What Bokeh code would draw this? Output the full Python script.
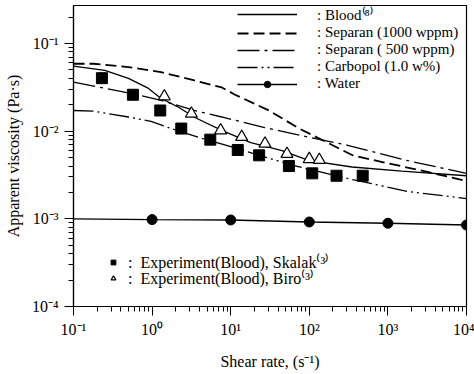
from bokeh.plotting import figure
from bokeh.models import Legend, LegendItem, CustomJSTickFormatter
from bokeh.embed import file_html
from bokeh.resources import INLINE

# Apparent viscosity (Pa·s) against shear rate (1/s)
blood_rate = [0.1, 0.25, 0.5, 0.9, 1.3, 2.2, 3.5, 7.7, 18, 45, 100, 350, 1500, 10000]
blood_visc = [0.055, 0.0492, 0.0399, 0.0307, 0.0236, 0.0186, 0.0143, 0.0102, 0.0074,
              0.0060, 0.0046, 0.0039, 0.0035, 0.0031]

sep1000_rate = [0.1, 0.18, 0.5, 1.3, 3.45, 7.7, 11.2, 30.7, 74.5, 356, 1000, 3300, 10000]
sep1000_visc = [0.0587, 0.0587, 0.0537, 0.0471, 0.0379, 0.0315, 0.0262, 0.0172, 0.0107,
                0.0053, 0.0043, 0.0034, 0.0027]

sep500_rate = [0.1, 0.57, 1.3, 3.45, 7.7, 27, 100, 307, 1800, 10000]
sep500_visc = [0.0362, 0.0267, 0.0224, 0.0172, 0.0145, 0.0110, 0.0085, 0.0069, 0.0046, 0.0033]

carbopol_rate = [0.1, 0.18, 0.5, 0.97, 1.75, 4.25, 10.3, 60, 356, 1800, 10000]
carbopol_visc = [0.0172, 0.0169, 0.0145, 0.0129, 0.0107, 0.0083, 0.0066, 0.0041, 0.0028,
                 0.00205, 0.0017]

water_rate = [0.1, 1, 10, 100, 1000, 10000]
water_visc = [1.0e-3, 9.8e-4, 9.7e-4, 9.2e-4, 8.9e-4, 8.5e-4]

# Measured blood viscosity
skalak_rate = [0.23, 0.57, 1.27, 2.35, 5.5, 12.3, 23, 55, 109, 222, 478]
skalak_visc = [0.0402, 0.026, 0.0172, 0.0107, 0.0080, 0.0061, 0.0053, 0.0040, 0.0033,
               0.0031, 0.0031]

biro_rate = [1.43, 3.16, 7.45, 13.8, 27.3, 52, 100, 134]
biro_visc = [0.0249, 0.0158, 0.0102, 0.0086, 0.0072, 0.0055, 0.0048, 0.0047]

FONT = "Liberation Serif"

p = figure(width=474, height=374, x_axis_type="log", y_axis_type="log",
           x_range=(0.1, 1e4), y_range=(1e-4, 0.271),
           output_backend="svg", toolbar_location=None,
           min_border_left=73, min_border_right=8, min_border_top=5, min_border_bottom=68,
           background_fill_color="white", border_fill_color="white")
p.xgrid.visible = False
p.ygrid.visible = False
p.outline_line_color = "black"
p.outline_line_width = 1.2

sup = CustomJSTickFormatter(code="""
const s = {'-':'\u207b','0':'\u2070','1':'\u00b9','2':'\u00b2','3':'\u00b3','4':'\u2074',
           '5':'\u2075','6':'\u2076','7':'\u2077','8':'\u2078','9':'\u2079'};
const e = Math.round(Math.log10(tick));
return '10' + String(e).split('').map(c => s[c]).join('');
""")

for ax in (p.xaxis[0], p.yaxis[0]):
    ax.formatter = sup
    ax.major_tick_in = 0
    ax.major_tick_out = 9
    ax.minor_tick_in = 0
    ax.minor_tick_out = 5
    ax.axis_line_color = "black"
    ax.axis_line_width = 1.2
    ax.major_tick_line_color = "black"
    ax.minor_tick_line_color = "black"
    ax.major_label_text_font = FONT
    ax.major_label_text_font_size = "16px"
    ax.major_label_text_color = "black"
    ax.axis_label_text_font = FONT
    ax.axis_label_text_font_size = "16px"
    ax.axis_label_text_font_style = "normal"
    ax.axis_label_text_color = "black"

p.xaxis.axis_label = "Shear rate, (s\u207b\u00b9)"
p.xaxis.major_label_standoff = 5
p.xaxis.axis_label_standoff = 12
p.yaxis.axis_label = "Apparent viscosity (Pa\u00b7s)"
p.yaxis.major_label_standoff = 6
p.yaxis.axis_label_standoff = 7

r_blood = p.line(blood_rate, blood_visc, line_color="black", line_width=1.3)
r_s1000 = p.line(sep1000_rate, sep1000_visc, line_color="black", line_width=1.8,
                 line_dash="11 5")
r_s500 = p.line(sep500_rate, sep500_visc, line_color="black", line_width=1.3,
                line_dash="22 5 3 5")
r_carb = p.line(carbopol_rate, carbopol_visc, line_color="black", line_width=1.3,
                line_dash="20 4 2 4 2 4")
r_water = p.line(water_rate, water_visc, line_color="black", line_width=1.3)
r_water_pts = p.scatter(water_rate[1:], water_visc[1:], marker="circle", size=10,
                        fill_color="black", line_color="black")

r_skalak = p.scatter(skalak_rate, skalak_visc, marker="square", size=11,
                     fill_color="black", line_color="black")
r_biro = p.scatter(biro_rate, biro_visc, marker="triangle", size=12,
                   fill_color="white", line_color="black", line_width=1.2)

fluid_legend = Legend(items=[
    LegendItem(label=": Blood\u207d\u2078\u207e", renderers=[r_blood]),
    LegendItem(label=": Separan (1000 wppm)", renderers=[r_s1000]),
    LegendItem(label=": Separan (\u00a0500 wppm)", renderers=[r_s500]),
    LegendItem(label=": Carbopol (1.0 w%)", renderers=[r_carb]),
    LegendItem(label=": Water", renderers=[r_water, r_water_pts]),
], location=(162, 212))
fluid_legend.glyph_width = 60
fluid_legend.label_standoff = 20
fluid_legend.label_text_font_size = "15px"

# One legend per experiment row, so the rows can sit close together
skalak_legend = Legend(items=[
    LegendItem(label=":\u00a0 Experiment(Blood), Skalak\u207d\u00b3\u207e", renderers=[r_skalak]),
], location=(32, 31))
biro_legend = Legend(items=[
    LegendItem(label=":\u00a0 Experiment(Blood), Biro\u207d\u00b3\u207e", renderers=[r_biro]),
], location=(32, 15))
for lg in (skalak_legend, biro_legend):
    lg.glyph_width = 12
    lg.label_standoff = 9
    lg.label_text_font_size = "16px"

for lg in (fluid_legend, skalak_legend, biro_legend):
    lg.background_fill_alpha = 0
    lg.border_line_alpha = 0
    lg.padding = 2
    lg.margin = 0
    lg.spacing = 0
    lg.glyph_height = 16
    lg.label_height = 16
    lg.label_text_font = FONT
    lg.label_text_color = "black"
    p.add_layout(lg)

open("out.html", "w").write(file_html(p, INLINE))
